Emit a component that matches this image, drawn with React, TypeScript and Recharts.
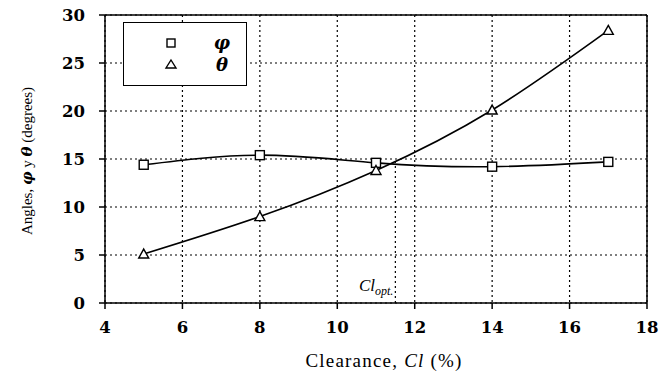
import React from "react";
import {
  LineChart,
  Line,
  XAxis,
  YAxis,
  CartesianGrid,
  ReferenceLine,
} from "recharts";

// values
const clearance = [5, 8, 11, 14, 17];
const phiValues = [14.4, 15.4, 14.6, 14.2, 14.7];
const thetaValues = [5.1, 9.0, 13.8, 20.1, 28.4];
const xTicks = [4, 6, 8, 10, 12, 14, 16, 18];
const yTicks = [0, 5, 10, 15, 20, 25, 30];
const clOpt = 11.5;
const clOptAngle = 14.7;

const phiData = clearance.map((x, i) => ({ x, y: phiValues[i] }));
const thetaData = clearance.map((x, i) => ({ x, y: thetaValues[i] }));

const SERIF = "'DejaVu Serif', 'Liberation Serif', serif";
const TEXT_SERIF = "'Liberation Serif', 'DejaVu Serif', serif";

const tickStyle = {
  fontFamily: SERIF,
  fontWeight: 700,
  fontSize: 16.5,
  fill: "#000",
};

function SquareDot(props: any) {
  const { cx, cy, index } = props;
  if (cx == null || cy == null) return null;
  return (
    <rect
      key={`sq-${index}`}
      x={cx - 4.5}
      y={cy - 4.5}
      width={9}
      height={9}
      fill="#fff"
      stroke="#000"
      strokeWidth={1.4}
    />
  );
}

function TriangleDot(props: any) {
  const { cx, cy, index } = props;
  if (cx == null || cy == null) return null;
  return (
    <path
      key={`tr-${index}`}
      d={`M${cx},${cy - 5} L${cx + 5},${cy + 4} L${cx - 5},${cy + 4} Z`}
      fill="#fff"
      stroke="#000"
      strokeWidth={1.4}
    />
  );
}

function LegendBox() {
  return (
    <div
      style={{
        position: "absolute",
        left: 123,
        top: 22,
        width: 124,
        height: 64,
        border: "1.5px solid #000",
        background: "#fff",
        boxSizing: "border-box",
      }}
    >
      <svg width={122} height={62} style={{ display: "block" }}>
        <rect x={43} y={16} width={8} height={8} fill="#fff" stroke="#000" strokeWidth={1.4} />
        <path d="M47,37 L52,45 L42,45 Z" fill="#fff" stroke="#000" strokeWidth={1.4} />
        <text x={98} y={26} fontFamily={SERIF} fontWeight={700} fontStyle="italic" fontSize={18} textAnchor="middle">
          φ
        </text>
        <text x={98} y={48} fontFamily={SERIF} fontWeight={700} fontStyle="italic" fontSize={18} textAnchor="middle">
          θ
        </text>
      </svg>
    </div>
  );
}

export default function App() {
  return (
    <div style={{ position: "relative", width: 665, height: 376, background: "#fff" }}>
      <style>{`body{margin:0}`}</style>
      <LineChart
        width={665}
        height={376}
        margin={{ top: 15, right: 18, left: 0, bottom: 0 }}
      >
        <CartesianGrid stroke="#000" strokeWidth={1.2} strokeDasharray="2 3" />
        <XAxis
          type="number"
          dataKey="x"
          domain={[4, 18]}
          ticks={xTicks}
          allowDataOverflow
          height={73}
          tick={tickStyle}
          tickSize={6}
          tickMargin={12}
          stroke="#000"
          strokeWidth={1.5}
          label={{
            content: (p: any) => {
              const vb = p.viewBox;
              const cx = vb.x + vb.width / 2 + 8;
              return (
                <text x={cx} y={367} textAnchor="middle" fontFamily={TEXT_SERIF} fontSize={19} letterSpacing={1.2} fill="#000">
                  Clearance, <tspan fontStyle="italic">Cl</tspan> (%)
                </text>
              );
            },
          }}
        />
        <YAxis
          type="number"
          dataKey="y"
          domain={[0, 30]}
          ticks={yTicks}
          width={105}
          tick={tickStyle}
          tickSize={6}
          tickMargin={14}
          stroke="#000"
          strokeWidth={1.5}
          label={{
            content: () => (
              <text
                x={27}
                y={161}
                transform="rotate(-90 27 161)"
                textAnchor="middle"
                dominantBaseline="central"
                fontFamily={TEXT_SERIF}
                fontSize={15}
                fill="#000"
              >
                Angles, <tspan fontWeight={700} fontStyle="italic" fontFamily={SERIF}>φ</tspan> y{" "}
                <tspan fontWeight={700} fontStyle="italic" fontFamily={SERIF}>θ</tspan> (degrees)
              </text>
            ),
          }}
        />
        <ReferenceLine y={30} stroke="#000" strokeWidth={1.5} />
        <ReferenceLine x={18} stroke="#000" strokeWidth={1.5} />
        <ReferenceLine
          segment={[
            { x: clOpt, y: 0 },
            { x: clOpt, y: clOptAngle },
          ]}
          stroke="#000"
          strokeWidth={1.2}
          strokeDasharray="2 3"
          label={{
            content: (p: any) => {
              const vb = p.viewBox || {};
              const x = (vb.x ?? 0) - 2;
              return (
                <text x={x} y={291} textAnchor="end" fontFamily={TEXT_SERIF} fontStyle="italic" fontSize={17} fill="#000">
                  Cl
                  <tspan fontSize={12} dy={4}>opt.</tspan>
                </text>
              );
            },
          }}
        />
        <Line
          data={phiData}
          dataKey="y"
          type="natural"
          stroke="#000"
          strokeWidth={1.6}
          dot={SquareDot}
          activeDot={false}
          isAnimationActive={false}
        />
        <Line
          data={thetaData}
          dataKey="y"
          type="natural"
          stroke="#000"
          strokeWidth={1.6}
          dot={TriangleDot}
          activeDot={false}
          isAnimationActive={false}
        />
      </LineChart>
      <LegendBox />
    </div>
  );
}
